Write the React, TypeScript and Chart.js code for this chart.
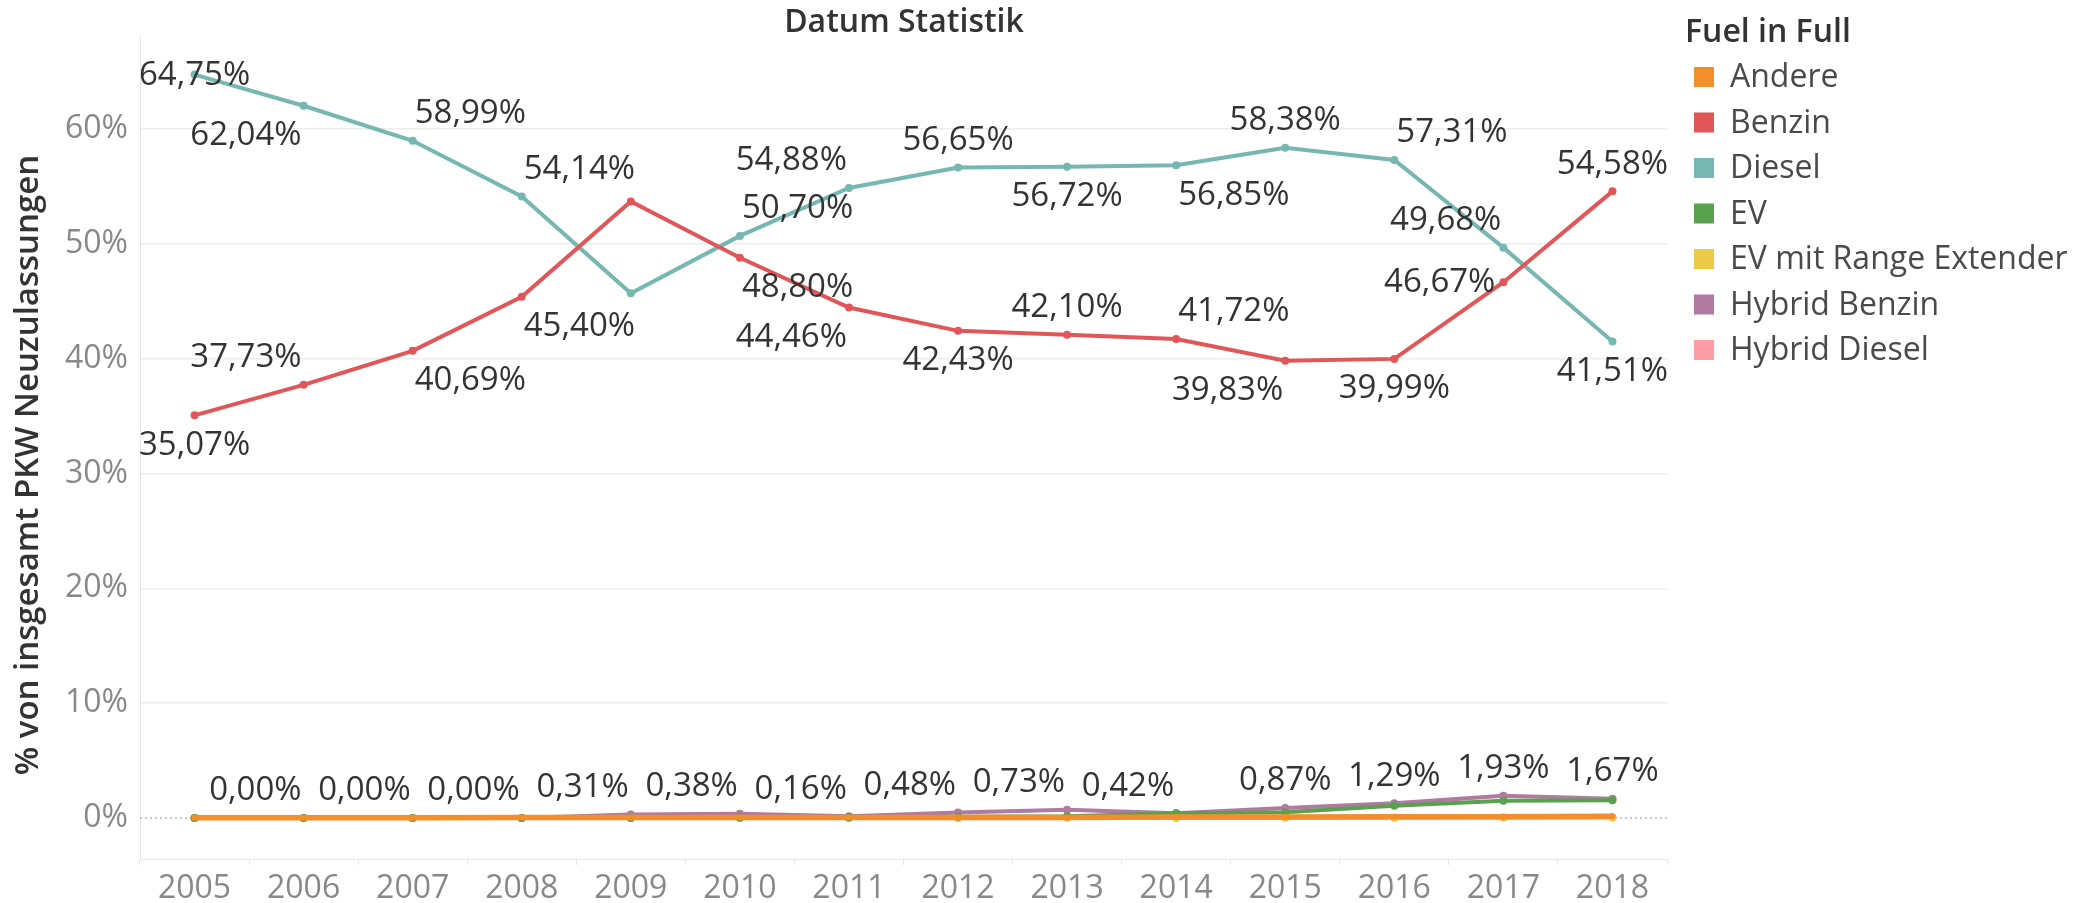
import React, { useEffect, useRef } from 'react';
import { Chart, registerables } from 'chart.js';

Chart.register(...registerables);

// ---------- data ----------
const years = ['2005', '2006', '2007', '2008', '2009', '2010', '2011', '2012', '2013', '2014', '2015', '2016', '2017', '2018'];
const seriesNames = ['Andere', 'Benzin', 'Diesel', 'EV', 'EV mit Range Extender', 'Hybrid Benzin', 'Hybrid Diesel'];
const andere = [0.02, 0.02, 0.03, 0.05, 0.05, 0.05, 0.05, 0.05, 0.05, 0.08, 0.08, 0.1, 0.1, 0.15];
const benzin = [35.07, 37.73, 40.69, 45.4, 53.7, 48.8, 44.46, 42.43, 42.1, 41.72, 39.83, 39.99, 46.67, 54.58];
const diesel = [64.75, 62.04, 58.99, 54.14, 45.7, 50.7, 54.88, 56.65, 56.72, 56.85, 58.38, 57.31, 49.68, 41.51];
const ev = [0, 0, 0, 0, 0.01, 0.02, 0.05, 0.1, 0.15, 0.42, 0.5, 1.07, 1.5, 1.55];
const evRangeExtender = [0, 0, 0, 0, 0, 0, 0, 0.01, 0.04, 0.05, 0.05, 0.03, 0.04, 0.05];
const hybridBenzin = [0, 0, 0, 0, 0.31, 0.38, 0.16, 0.48, 0.73, 0.42, 0.87, 1.29, 1.93, 1.67];
const hybridDiesel = [0, 0, 0, 0, 0, 0, 0, 0.01, 0.02, 0.03, 0.02, 0.03, 0.04, 0.04];
const yTicks = [0, 10, 20, 30, 40, 50, 60];

// ---------- styles ----------
const colors = ['#f28e2b', '#e15759', '#76b7b2', '#59a14f', '#edc948', '#b07aa1', '#ff9da7'];
const lineWidths = [5.5, 4, 4, 4, 4, 4, 4];
const pointRadii = [3, 4, 4, 4, 4, 4, 4];
const FONT = "'Open Sans', 'Noto Sans', sans-serif";
// label placement around each point (null = no label)
const benzinLabels = ['S', 'NW', 'SE', 'SE', null, 'SE', 'SW', 'S', 'N', 'NE', 'SW', 'S', 'W', 'N'];
const dieselLabels = ['C', 'SW', 'NE', 'NE', null, 'NE', 'NW', 'N', 'S', 'SE', 'N', 'NE', 'NW', 'S'];
const hybridBenzinLabels = [null, 'NW', 'NW', 'NW', 'NW', 'NW', 'NW', 'NW', 'NW', 'NW', 'N', 'N', 'N', 'N'];

const placement: Record<string, [number, number, CanvasTextAlign]> = {
  N: [0, -27, 'center'],
  S: [0, 30, 'center'],
  C: [0, 1, 'center'],
  NE: [2, -27, 'left'],
  SE: [2, 30, 'left'],
  NW: [-2, -27, 'right'],
  SW: [-2, 30, 'right'],
  W: [-8, 0, 'right'],
};

const fmt = (v: number) => v.toFixed(2).replace('.', ',') + '%';

const decorPlugin = {
  id: 'decor',
  beforeDatasetsDraw(chart: any) {
    const { ctx, chartArea } = chart;
    const y0 = chart.scales.y.getPixelForValue(0);
    ctx.save();
    ctx.strokeStyle = '#b5b5b5';
    ctx.lineWidth = 1.5;
    ctx.setLineDash([2, 3]);
    ctx.beginPath();
    ctx.moveTo(chartArea.left, y0);
    ctx.lineTo(chartArea.right, y0);
    ctx.stroke();
    ctx.restore();
  },
  afterDatasetsDraw(chart: any) {
    const { ctx } = chart;
    ctx.save();
    ctx.font = `33px ${FONT}`;
    ctx.fillStyle = '#333333';
    ctx.textBaseline = 'middle';
    chart.data.datasets.forEach((ds: any, i: number) => {
      const pl = ds.labelPlacement;
      if (!pl) return;
      const meta = chart.getDatasetMeta(i);
      meta.data.forEach((pt: any, j: number) => {
        const code = pl[j];
        if (!code) return;
        const [dx, dy, align] = placement[code];
        ctx.textAlign = align;
        ctx.fillText(fmt(ds.data[j]), pt.x + dx, pt.y + dy);
      });
    });
    ctx.restore();
  },
  afterDraw(chart: any) {
    const { ctx, chartArea } = chart;
    ctx.save();
    // title
    ctx.fillStyle = '#333333';
    ctx.font = `600 32px ${FONT}`;
    ctx.textAlign = 'center';
    ctx.textBaseline = 'middle';
    ctx.fillText('Datum Statistik', 904, 23);
    // y axis title
    ctx.save();
    ctx.translate(29, (chartArea.top + chartArea.bottom) / 2 + 18);
    ctx.rotate(-Math.PI / 2);
    ctx.font = `600 33px ${FONT}`;
    ctx.fillText('% von insgesamt PKW Neuzulassungen', 0, 0);
    ctx.restore();
    // legend
    ctx.textAlign = 'left';
    ctx.font = `600 32px ${FONT}`;
    ctx.fillText('Fuel in Full', 1685, 33);
    ctx.font = `32px ${FONT}`;
    seriesNames.forEach((name, i) => {
      const cy = 77 + i * 45.5;
      ctx.fillStyle = colors[i];
      ctx.fillRect(1694, cy - 10, 20, 20);
      ctx.fillStyle = '#4a4a4a';
      ctx.fillText(name, 1730, cy + 1);
    });
    ctx.restore();
  },
};

export default function App() {
  const ref = useRef<HTMLCanvasElement>(null);
  useEffect(() => {
    document.body.style.margin = '0';
    const values = [andere, benzin, diesel, ev, evRangeExtender, hybridBenzin, hybridDiesel];
    const labelSets: any[] = [null, benzinLabels, dieselLabels, null, null, hybridBenzinLabels, null];
    const chart = new Chart(ref.current!, {
      type: 'line',
      data: {
        labels: years,
        datasets: values.map((d, i) => ({
          label: seriesNames[i],
          data: d,
          borderColor: colors[i],
          backgroundColor: colors[i],
          pointBackgroundColor: colors[i],
          pointBorderWidth: 0,
          pointRadius: pointRadii[i],
          borderWidth: lineWidths[i],
          borderCapStyle: 'round',
          tension: 0,
          labelPlacement: labelSets[i],
        })) as any,
      },
      options: {
        animation: false,
        responsive: false,
        devicePixelRatio: 1,
        layout: { padding: { top: 35, right: 420, left: 0, bottom: 0 } },
        plugins: { legend: { display: false }, tooltip: { enabled: false }, title: { display: false } },
        scales: {
          x: {
            type: 'category',
            offset: true,
            grid: { display: true, drawOnChartArea: false, drawTicks: true, tickLength: 6, color: '#e6e6e6', offset: true },
            border: { display: true, color: '#e6e6e6', width: 1 },
            ticks: { color: '#888888', font: { family: FONT, size: 32 }, padding: 5, maxRotation: 0, autoSkip: false },
            afterFit: (s: any) => { s.height = 44; },
          },
          y: {
            type: 'linear',
            min: -3.57,
            max: 68.2,
            afterBuildTicks: (s: any) => { s.ticks = yTicks.map((v) => ({ value: v })); },
            grid: {
              drawTicks: false,
              color: (c: any) => (c.tick && c.tick.value === 0 ? 'rgba(0,0,0,0)' : '#ededed'),
              lineWidth: 1.5,
            },
            border: { display: true, color: '#e6e6e6', width: 1 },
            ticks: { color: '#888888', font: { family: FONT, size: 32 }, padding: 12, callback: (v: any) => v + '%' },
            afterFit: (s: any) => { s.width = 140; },
          },
        },
      },
      plugins: [decorPlugin],
    });
    if ((document as any).fonts && (document as any).fonts.ready) {
      (document as any).fonts.ready.then(() => chart.update());
    }
    return () => chart.destroy();
  }, []);
  return (
    <div style={{ position: 'fixed', left: 0, top: 0, width: 2087, height: 903, background: '#fff' }}>
      <canvas ref={ref} width={2087} height={903} style={{ width: 2087, height: 903 }} />
    </div>
  );
}
